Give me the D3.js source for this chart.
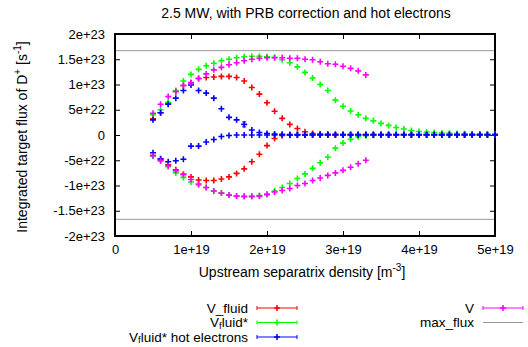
<!DOCTYPE html>
<html><head><meta charset="utf-8">
<script src="https://cdn.jsdelivr.net/npm/d3@7"></script>
<style>body{margin:0;background:#fff}text{font-family:"Liberation Sans",Arial,sans-serif;}</style>
</head><body><svg id="c" width="528" height="347"></svg>
<script>
// x in units of 1e19 m^-3, y in units of 1e22 s^-1
const density = [0.5,0.6,0.7,0.8,0.9,1.0,1.1,1.2,1.3,1.4,1.5,1.6,1.7,1.8,1.9,2.0,2.1,2.2,2.3,2.4,2.5,2.6,2.7,2.8,2.9,3.0,3.1,3.2,3.3,3.4,3.5,3.6,3.7,3.8,3.9,4.0,4.1,4.2,4.3,4.4,4.5,4.6,4.7,4.8,4.9,5.0];
const densityV = [0.5,0.6,0.7,0.8,0.9,1.0,1.1,1.2,1.3,1.4,1.5,1.6,1.7,1.8,1.9,2.0,2.1,2.2,2.3,2.4,2.5,2.6,2.7,2.8,2.9,3.0,3.1,3.2,3.3];

const fluidUp = [3.2,4.4,6.2,8.6,9.8,10.3,11.2,11.4,11.5,11.6,11.6,11.4,10.7,9.4,8.1,6.4,4.7,3.3,2.1,1.3,0.65,0.3,0.2,0.15,0.12,0.1,0.1,0.1,0.1,0.1,0.1,0.1,0.1,0.1,0.1,0.1,0.1,0.1,0.1,0.1,0.1,0.1,0.1,0.1,0.1,0.1];
const fluidLo = [-4.0,-4.8,-5.9,-6.9,-7.8,-8.3,-8.9,-9.0,-9.0,-8.7,-8.3,-7.6,-6.7,-5.3,-3.8,-2.1,-0.7,-0.1,-0.05,0,0,0,0,0,0,0,0,0,0,0,0,0,0,0,0,0,0,0,0,0,0,0,0,0,0,0];
const starUp = [4.0,5.0,6.5,8.8,10.7,12.0,13.0,13.7,14.2,14.7,15.0,15.3,15.5,15.6,15.6,15.5,15.4,14.9,14.3,13.5,12.4,11.3,10.0,8.8,6.9,5.7,4.75,4.0,3.3,2.8,2.3,1.9,1.5,1.2,0.9,0.7,0.6,0.5,0.4,0.33,0.3,0.25,0.2,0.15,0.1,0.1];
const starLo = [-4.2,-5.1,-6.3,-7.5,-8.4,-9.3,-9.9,-10.4,-11.1,-11.5,-11.9,-12.1,-12.1,-12.1,-12.0,-11.7,-11.1,-10.4,-9.6,-8.6,-7.7,-6.6,-5.5,-4.4,-2.6,-1.6,-0.86,-0.33,-0.13,-0.05,0,0,0,0,0,0,0,0,0,0,0,0,0,0,0,0];
const hotUp = [3.0,4.4,6.1,7.3,8.8,9.9,8.8,8.3,7.3,5.2,3.5,3.0,2.1,1.0,0.5,0.3,0.2,0.15,0.1,0.1,0.1,0.1,0.1,0.1,0.1,0.1,0.1,0.1,0.1,0.1,0.1,0.1,0.1,0.1,0.1,0.1,0.1,0.1,0.1,0.1,0.1,0.1,0.1,0.1,0.1,0.1];
const hotLo = [-3.5,-4.7,-5.3,-5.1,-4.8,-2.2,-2.2,-1.4,-0.9,-0.3,-0.1,0,0,0,0,0,0,0,0,0,0,0,0,0,0,0,0,0,0,0,0,0,0,0,0,0,0,0,0,0,0,0,0,0,0,0];
const hotErr = [0,0,0,0,0,0,0,0,0,0,0,0,0.5,0,0,0,0,0,0,0,0,0,0,0,0,0,0,0,0,0,0,0,0,0,0,0,0,0,0,0,0,0,0,0,0,0];
const vUp = [4.3,6.1,7.6,8.6,9.8,10.4,11.2,12.1,12.9,13.4,13.9,14.3,14.7,15.0,15.2,15.3,15.3,15.3,15.2,15.2,15.0,14.9,14.5,14.1,14.0,13.6,13.2,12.7,11.9];
const vLo = [-4.1,-5.1,-6.1,-7.1,-7.8,-8.8,-9.7,-10.4,-11.1,-11.5,-11.9,-12.1,-12.2,-12.2,-12.1,-11.8,-11.3,-11.0,-10.6,-10.0,-9.6,-9.0,-8.5,-8.0,-7.5,-7.0,-6.4,-5.7,-5.0];
const maxFlux = 16.7;

const xTicks = [0,1,2,3,4,5];
const xTickLabels = ["0","1e+19","2e+19","3e+19","4e+19","5e+19"];
const yTicks = [20,15,10,5,0,-5,-10,-15,-20];
const yTickLabels = ["2e+23","1.5e+23","1e+23","5e+22","0","-5e+22","-1e+23","-1.5e+23","-2e+23"];

const series = [
  {name:"V_fluid", sub:null, color:"#ff0000", x:density, up:fluidUp, lo:fluidLo},
  {name:"V", sub:["f","luid*"], color:"#00ff00", x:density, up:starUp, lo:starLo},
  {name:"V", sub:["f","luid* hot electrons"], color:"#0000ff", x:density, up:hotUp, lo:hotLo, err:hotErr},
  {name:"V", sub:null, color:"#ff00ff", x:densityV, up:vUp, lo:vLo}
];

const svg = d3.select("#c");
const L=115, R=495, T=34, B=236;
const x = d3.scaleLinear().domain([0,5]).range([L,R]);
const y = d3.scaleLinear().domain([-20,20]).range([B,T]);

svg.append("text").attr("x",306).attr("y",18).attr("text-anchor","middle").attr("font-size",14).text("2.5 MW, with PRB correction and hot electrons");

// max flux lines
[maxFlux,-maxFlux].forEach(v=>{
  svg.append("line").attr("x1",L).attr("x2",R).attr("y1",y(v)).attr("y2",y(v)).attr("stroke","#999").attr("stroke-width",1);
});

// axes
const fmtX = (d,i)=>xTickLabels[i], fmtY=(d,i)=>yTickLabels[i];
const ax = svg.append("g").attr("transform",`translate(0,${B})`).call(d3.axisBottom(x).tickValues(xTicks).tickFormat(fmtX).tickSizeInner(-5).tickSizeOuter(0).tickPadding(9));
const axT = svg.append("g").attr("transform",`translate(0,${T})`).call(d3.axisTop(x).tickValues(xTicks).tickFormat("").tickSizeInner(-5).tickSizeOuter(0));
const ay = svg.append("g").attr("transform",`translate(${L},0)`).call(d3.axisLeft(y).tickValues(yTicks).tickFormat(fmtY).tickSizeInner(-5).tickSizeOuter(0).tickPadding(10));
const ayR = svg.append("g").attr("transform",`translate(${R},0)`).call(d3.axisRight(y).tickValues(yTicks).tickFormat("").tickSizeInner(-5).tickSizeOuter(0));
[ax,axT,ay,ayR].forEach(g=>{
  g.select(".domain").remove();
  g.selectAll(".tick line").attr("stroke","#000").attr("stroke-width",1);
  g.selectAll("text").attr("font-size",13).attr("fill","#000").attr("font-family","Liberation Sans, Arial, sans-serif");
});
svg.append("rect").attr("x",L).attr("y",T).attr("width",R-L).attr("height",B-T).attr("fill","none").attr("stroke","#000").attr("stroke-width",2);

// labels
const xl = svg.append("text").attr("x",302).attr("y",277).attr("text-anchor","middle").attr("font-size",14);
xl.append("tspan").text("Upstream separatrix density [m");
xl.append("tspan").attr("dy",-6).attr("font-size",10).text("-3");
xl.append("tspan").attr("dy",6).text("]");
const yl = svg.append("text").attr("transform","translate(27,137) rotate(-90)").attr("text-anchor","middle").attr("font-size",14);
yl.append("tspan").text("Integrated target flux of D");
yl.append("tspan").attr("dy",-6).attr("font-size",10).text("+");
yl.append("tspan").attr("dy",6).text(" [s");
yl.append("tspan").attr("dy",-6).attr("font-size",10).text("-1");
yl.append("tspan").attr("dy",6).text("]");

function plus(g,cx,cy,color){
  g.append("path").attr("d",`M${cx-3},${cy}H${cx+3}M${cx},${cy-3}V${cy+3}`).attr("stroke",color).attr("stroke-width",1.6).attr("fill","none");
}
const plot = svg.append("g");
series.forEach(s=>{
  const g = plot.append("g");
  [s.up,s.lo].forEach((arr,k)=>{
    arr.forEach((v,i)=>{
      const cx=x(s.x[i]), cy=y(v);
      if(s.err && k===0 && s.err[i]>0){
        const e=s.err[i];
        g.append("path").attr("d",`M${cx},${y(v-e)}V${y(v+e)}M${cx-2},${y(v-e)}H${cx+2}M${cx-2},${y(v+e)}H${cx+2}`).attr("stroke",s.color).attr("stroke-width",1);
      }
      plus(g,cx,cy,s.color);
    });
  });
});

// legend
const legendRows = [
  {s:series[0], tx:248, ty:308, x1:257, x2:297},
  {s:series[1], tx:248, ty:322.5, x1:257, x2:297},
  {s:series[2], tx:248, ty:337, x1:257, x2:297},
  {s:series[3], tx:474, ty:308, x1:483, x2:523},
  {s:{name:"max_flux",sub:null,color:"#999",plain:true}, tx:474, ty:322.5, x1:483, x2:523}
];
legendRows.forEach(r=>{
  const t = svg.append("text").attr("x",r.tx).attr("y",r.ty+4.5).attr("text-anchor","end").attr("font-size",13.5);
  t.append("tspan").text(r.s.name);
  if(r.s.sub){
    t.append("tspan").attr("dy",1.5).attr("font-size",9.5).text(r.s.sub[0]);
    t.append("tspan").attr("dy",-1.5).text(r.s.sub[1]);
  }
  svg.append("line").attr("x1",r.x1).attr("x2",r.x2).attr("y1",r.ty).attr("y2",r.ty).attr("stroke",r.s.color).attr("stroke-width",1);
  if(!r.s.plain){
    [r.x1,r.x2].forEach(xx=>svg.append("line").attr("x1",xx).attr("x2",xx).attr("y1",r.ty-2).attr("y2",r.ty+2).attr("stroke",r.s.color));
    plus(svg,(r.x1+r.x2)/2,r.ty,r.s.color);
  }
});
</script></body></html>
